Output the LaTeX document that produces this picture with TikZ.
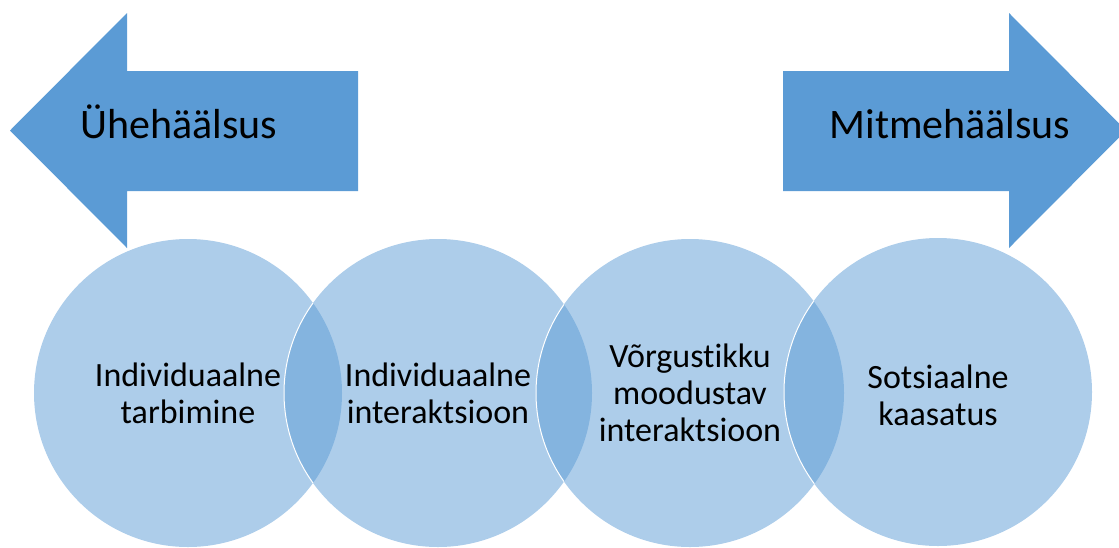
\documentclass[tikz,border=0pt]{standalone}
\usepackage{fontspec}
\setmainfont[Ligatures={NoCommon}]{Carlito}
\definecolor{arrowblue}{HTML}{5B9BD5}
\begin{document}
\begin{tikzpicture}[x=1pt,y=-1pt,
  bigarrow/.style={fill=arrowblue, draw=none},
  arrowlabel/.style={font=\fontsize{42}{50}\selectfont, text=black, anchor=base, inner sep=0pt},
  bubble/.style={circle, minimum size=308pt, inner sep=0pt, fill=arrowblue, fill opacity=0.5, draw=none},
  bubbletext/.style={align=center, text=black, inner sep=0pt, font=\fontsize{34}{37}\selectfont},
  rim/.style={draw=white, line width=1pt}]
\clip (0,0) rectangle (1119,547);
% arrows
\fill[bigarrow] (10,130.5) -- (127,13) -- (127,71) -- (358,71) -- (358,191) -- (127,191) -- (127,248) -- cycle;
\fill[bigarrow] (1126,130.5) -- (1009,13) -- (1009,71) -- (783,71) -- (783,191) -- (1009,191) -- (1009,248) -- cycle;
\node[arrowlabel] (lt) at (179,138) {Ühehäälsus};
\node[arrowlabel] (rt) at (950,138) {Mitmehäälsus};
% circles
\node[bubble] (c1) at (188,393) {};
\node[bubble] (c2) at (438,393) {};
\node[bubble] (c3) at (690,393) {};
\node[bubble] (c4) at (938,392) {};
\begin{scope}
\clip (c1.center) circle[radius=154pt];
\draw[rim] (c2.center) circle[radius=154pt];
\end{scope}
\begin{scope}
\clip (c2.center) circle[radius=154pt];
\draw[rim] (c3.center) circle[radius=154pt];
\end{scope}
\begin{scope}
\clip (c3.center) circle[radius=154pt];
\draw[rim] (c4.center) circle[radius=154pt];
\end{scope}
\node[bubbletext] (t1) at (c1.center) {Individuaalne\\tarbimine};
\node[bubbletext] (t2) at (c2.center) {Individuaalne\\interaktsioon};
\node[bubbletext] (t3) at (c3.center) {Võrgustikku\\moodustav\\interaktsioon};
\node[bubbletext] (t4) at ([yshift=-3pt]c4.center) {Sotsiaalne\\kaasatus};
\end{tikzpicture}
\end{document}
